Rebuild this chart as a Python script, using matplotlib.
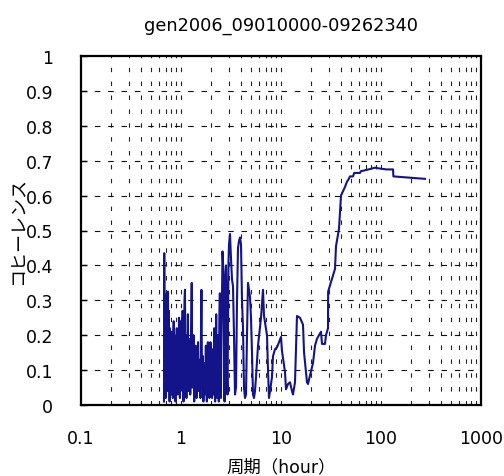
import matplotlib
matplotlib.use("Agg")
import matplotlib.pyplot as plt
from matplotlib.ticker import LogLocator, FixedLocator, NullFormatter
import numpy as np

plt.rcParams['font.family'] = ['DejaVu Sans', 'Noto Sans CJK JP']

title = "gen2006_09010000-09262340"
xlabel = "周期（hour）"
ylabel = "コヒーレンス"

# Short periods (hours) and coherence: dense fluctuating band
period_short = [
    0.676, 0.680, 0.686, 0.692, 0.698, 0.704, 0.710, 0.716, 0.722, 0.728,
    0.734, 0.741, 0.748, 0.755, 0.762, 0.769, 0.776, 0.783, 0.790, 0.797,
    0.805, 0.813, 0.821, 0.829, 0.837, 0.845, 0.853, 0.862, 0.871, 0.880,
    0.889, 0.898, 0.907, 0.916, 0.925, 0.935, 0.945, 0.955, 0.965, 0.975,
    0.985, 0.995, 1.005, 1.016, 1.027, 1.038, 1.049, 1.060, 1.072, 1.084,
    1.096, 1.108, 1.120, 1.133, 1.146, 1.159, 1.172, 1.185, 1.198, 1.211,
    1.224, 1.237, 1.250, 1.265, 1.280, 1.295, 1.310, 1.325, 1.340, 1.355,
    1.370, 1.385, 1.400, 1.416, 1.432, 1.448, 1.464, 1.480, 1.497, 1.514,
    1.531, 1.548, 1.565, 1.583, 1.601, 1.619, 1.637, 1.656, 1.675, 1.694,
    1.713, 1.733, 1.753, 1.773, 1.793, 1.814, 1.835, 1.857, 1.879, 1.901,
    1.924, 1.947, 1.970, 1.994, 2.018, 2.042, 2.067, 2.092, 2.117, 2.143,
    2.169, 2.195, 2.222, 2.249, 2.276, 2.304, 2.332, 2.360, 2.389, 2.418,
    2.448, 2.478, 2.508, 2.539, 2.570, 2.600, 2.630, 2.662, 2.694, 2.726,
    2.758, 2.790, 2.818, 2.850, 2.884, 2.918, 2.951, 2.985, 3.020,
]
coh_short = [
    0.01, 0.435, 0.05, 0.30, 0.12, 0.02, 0.25, 0.08, 0.32, 0.04,
    0.20, 0.325, 0.06, 0.27, 0.15, 0.01, 0.22, 0.10, 0.18, 0.03,
    0.21, 0.07, 0.17, 0.02, 0.14, 0.24, 0.05, 0.20, 0.11, 0.01,
    0.16, 0.06, 0.22, 0.13, 0.03, 0.18, 0.08, 0.25, 0.10, 0.02,
    0.15, 0.24, 0.05, 0.19, 0.08, 0.27, 0.12, 0.01, 0.17, 0.30,
    0.33, 0.06, 0.14, 0.02, 0.20, 0.11, 0.26, 0.04, 0.13, 0.07,
    0.19, 0.03, 0.10, 0.22, 0.35, 0.05, 0.15, 0.08, 0.20, 0.01,
    0.12, 0.06, 0.17, 0.09, 0.02, 0.14, 0.07, 0.18, 0.04, 0.11,
    0.06, 0.13, 0.02, 0.20, 0.33, 0.10, 0.05, 0.14, 0.01, 0.08,
    0.12, 0.03, 0.09, 0.17, 0.05, 0.01, 0.10, 0.18, 0.04, 0.12,
    0.02, 0.07, 0.18, 0.05, 0.14, 0.02, 0.09, 0.16, 0.03, 0.22,
    0.06, 0.01, 0.12, 0.26, 0.08, 0.02, 0.20, 0.15, 0.01, 0.25,
    0.32, 0.10, 0.02, 0.20, 0.31, 0.44, 0.41, 0.36, 0.15, 0.01,
    0.24, 0.38, 0.40, 0.30, 0.10, 0.03, 0.22, 0.41, 0.46,
]

# Intermediate periods (hours)
period_mid = [
    3.090, 3.162, 3.236, 3.311, 3.388, 3.467, 3.548, 3.631, 3.715, 3.802,
    3.890, 3.981, 4.074, 4.169, 4.266, 4.365, 4.467, 4.571, 4.677, 4.786,
    4.898, 5.010, 5.129, 5.248, 5.370, 5.495, 5.623, 5.888, 6.310, 6.607,
    6.761, 7.244, 7.413, 7.586, 8.128, 8.318, 8.710, 9.120, 10.00, 10.23,
    10.96, 11.22, 11.75, 12.30, 12.88, 13.18, 13.80, 14.45, 15.49, 16.60,
    17.00, 18.20, 18.62, 19.50, 20.89, 21.88, 22.91, 24.55, 25.12, 25.70,
    27.54, 28.18, 29.51,
]
coh_mid = [
    0.49, 0.42, 0.36, 0.34, 0.20, 0.03, 0.05, 0.30, 0.45, 0.47,
    0.48, 0.46, 0.30, 0.22, 0.05, 0.02, 0.03, 0.20, 0.35, 0.33,
    0.31, 0.25, 0.15, 0.03, 0.02, 0.04, 0.08, 0.17, 0.25, 0.33,
    0.255, 0.20, 0.10, 0.02, 0.08, 0.14, 0.16, 0.165, 0.195, 0.155,
    0.095, 0.045, 0.06, 0.065, 0.04, 0.03, 0.065, 0.255, 0.25, 0.23,
    0.15, 0.065, 0.06, 0.085, 0.12, 0.17, 0.19, 0.205, 0.21, 0.175,
    0.175, 0.20, 0.22,
]

# Long periods (hours)
period_long = [
    29.60, 34.67, 35.48, 38.02, 39.81, 43.65, 45.71, 47.00, 49.00, 52.48,
    54.00, 61.66, 63.00, 68.00, 75.00, 87.10, 95.00, 113.0, 132.0, 133.0,
    275.0,
]
coh_long = [
    0.325, 0.39, 0.455, 0.505, 0.60, 0.625, 0.64, 0.645, 0.655, 0.655,
    0.665, 0.665, 0.67, 0.672, 0.675, 0.68, 0.678, 0.675, 0.675, 0.655,
    0.648,
]

period = period_short + period_mid + period_long
coherence = coh_short + coh_mid + coh_long

xticks = [0.1, 1, 10, 100, 1000]
xticklabels = ["0.1", "1", "10", "100", "1000"]
yticks = [0, 0.1, 0.2, 0.3, 0.4, 0.5, 0.6, 0.7, 0.8, 0.9, 1.0]
yticklabels = ["0", "0.1", "0.2", "0.3", "0.4", "0.5", "0.6", "0.7", "0.8", "0.9", "1"]

fig = plt.figure(figsize=(5.04, 4.77), dpi=100)
ax = fig.add_axes([81 / 504, 1 - 406 / 477, 400 / 504, 349 / 477])

ax.plot(period, coherence, color="#13138a", lw=1.5, zorder=3)

ax.set_xscale("log")
ax.set_xlim(0.1, 1000)
ax.set_ylim(0, 1)

# dashed grid: every log subdivision vertically, every 0.1 horizontally
for d in [0.1, 1, 10, 100]:
    for k in range(1, 10):
        v = d * k
        if 0.1 < v < 1000:
            ax.axvline(v, color="#222222", lw=0.8, dashes=(4.0, 8.5), zorder=1)
for v in yticks[1:-1]:
    ax.axhline(v, color="#111111", lw=0.8, dashes=(5.0, 7.0), zorder=1)

ax.xaxis.set_major_locator(FixedLocator(xticks))
ax.xaxis.set_minor_locator(LogLocator(base=10, subs=range(2, 10)))
ax.xaxis.set_minor_formatter(NullFormatter())
ax.set_xticklabels(xticklabels)
ax.tick_params(axis="x", which="both", length=0, pad=17, labelsize=12.5)
ax.set_yticks(yticks)
ax.set_yticklabels(yticklabels)
ax.tick_params(axis="y", which="major", direction="in", length=4, width=1,
               pad=20, labelsize=12.5)

for s in ax.spines.values():
    s.set_linewidth(1.6)
    s.set_color("black")

ax.set_title(title, fontsize=12.8, pad=19)
ax.set_xlabel(xlabel, fontsize=12.5, labelpad=8)
ax.set_ylabel(ylabel, fontsize=13)
ax.yaxis.set_label_coords(-0.135, 0.5)

fig.savefig("out.png", dpi=100)
